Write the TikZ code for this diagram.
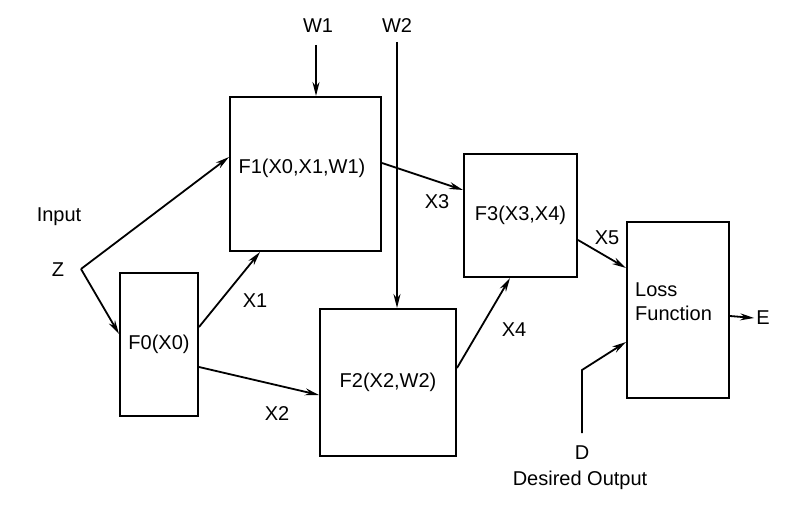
\documentclass[tikz,border=0pt]{standalone}
\usepackage{fontspec}
\setmainfont{Liberation Sans}
\usetikzlibrary{arrows.meta}

\begin{document}
\begin{tikzpicture}[x=1pt,y=-1pt,
    block/.style={draw, line width=2pt, inner sep=0pt, font=\fontsize{20}{24}\selectfont},
    wire/.style={line width=1.8pt, -{Stealth[length=14pt,width=7pt]}},
    lbl/.style={inner sep=2pt, font=\fontsize{20}{24}\selectfont}]
\useasboundingbox (0,0) rectangle (792,513);
% blocks
\node[block, minimum width=78pt, minimum height=143pt] (f0) at (159,344.5) {F0(X0)};
\node[block, minimum width=151pt, minimum height=154pt] (f1) at (305.5,174) {};
\node[lbl] (f1text) at (302,168) {F1(X0,X1,W1)};
\node[block, minimum width=136pt, minimum height=147pt] (f2) at (388,382.5) {F2(X2,W2)};
\node[block, minimum width=113pt, minimum height=123pt] (f3) at (520.5,215.5) {F3(X3,X4)};
\node[block, minimum width=102pt, minimum height=176pt] (loss) at (678,310) {};
\node[lbl, align=left, anchor=west] (losstext) at (633,302) {Loss\\Function};
% labels
\node[lbl] (input) at (59,217) {Input};
\node[lbl] (z) at (58,270) {Z};
\node[lbl] (w1) at (318,26) {W1};
\node[lbl] (w2) at (397,26) {W2};
\node[lbl] (x1) at (255,301) {X1};
\node[lbl] (x2) at (277,414) {X2};
\node[lbl] (x3) at (437,202) {X3};
\node[lbl] (x4) at (514,330) {X4};
\node[lbl] (x5) at (607,238) {X5};
\node[lbl] (e) at (763,318) {E};
\node[lbl] (d) at (582,453) {D};
\node[lbl] (desired) at (580,480) {Desired Output};
% free ends
\coordinate (zin) at (81,269);
\coordinate (w1in) at (316,45);
\coordinate (w2in) at (397,42);
\coordinate (din) at (582,433);
\coordinate (dbend) at (582,370);
% connectors
\draw[wire] (w1in) -- (w1in |- f1.north);
\draw[wire] (w2in) -- (w2in |- f2.north);
\draw[wire] (zin) -- ([yshift=17pt]f1.west);
\draw[wire] (zin) -- ([yshift=10.5pt]f0.west);
\draw[wire] ([yshift=17.5pt]f0.east) -- ([xshift=-45.5pt]f1.south);
\draw[wire] ([yshift=-22.5pt]f0.east) -- ([yshift=-12.5pt]f2.west);
\draw[wire] ([yshift=11pt]f1.east) -- ([yshift=25.5pt]f3.west);
\draw[wire] ([yshift=14.5pt]f2.east) -- ([xshift=-10.5pt]f3.south);
\draw[wire] ([yshift=-24.5pt]f3.east) -- ([yshift=42pt]loss.west);
\draw[wire] (din) -- (dbend) -- ([yshift=-32pt]loss.west);
\draw[wire] ([yshift=-6pt]loss.east) -- (e.west);
\end{tikzpicture}
\end{document}
